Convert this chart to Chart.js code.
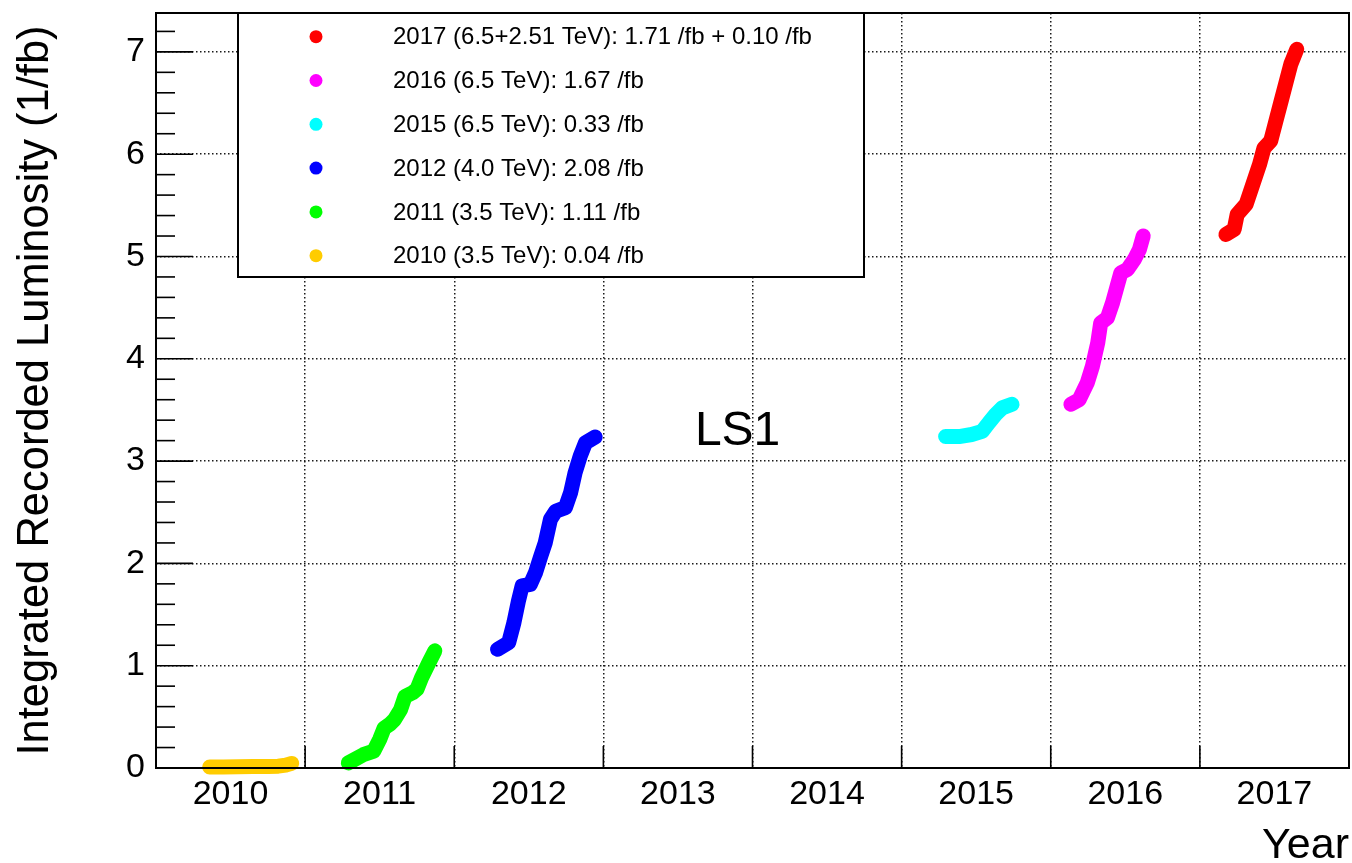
<!DOCTYPE html>
<html>
<head>
<meta charset="utf-8">
<script src="https://cdn.jsdelivr.net/npm/chart.js@4.4.1/dist/chart.umd.min.js"></script>
<style>
html,body{margin:0;padding:0;background:#fff;overflow:hidden}
#wrap{width:1352px;height:863px;position:relative}
</style>
</head>
<body>
<div id="wrap"><canvas id="c"></canvas></div>
<script>
// ---- axis definitions ----
const xGridTicks = [2010, 2011, 2012, 2013, 2014, 2015, 2016, 2017, 2018];
const yTicks = [0, 1, 2, 3, 4, 5, 6, 7];
const yMax = 7.38;
const xTitle = 'Year';
const yTitle = 'Integrated Recorded Luminosity (1/fb)';
const annotationText = 'LS1';

// ---- series (x = fractional year, y = cumulative 1/fb) ----
const run2010 = [[2010.36,0.01],[2010.45,0.01],[2010.55,0.012],[2010.65,0.015],[2010.75,0.015],[2010.82,0.018],[2010.87,0.028],[2010.91,0.045]];
const run2011 = [[2011.29,0.05],[2011.39,0.13],[2011.46,0.165],[2011.50,0.28],[2011.53,0.39],[2011.57,0.43],[2011.60,0.475],[2011.64,0.57],[2011.67,0.70],[2011.72,0.735],[2011.75,0.77],[2011.78,0.88],[2011.83,1.03],[2011.87,1.145]];
const run2012 = [[2012.29,1.16],[2012.365,1.225],[2012.40,1.42],[2012.43,1.63],[2012.455,1.78],[2012.51,1.795],[2012.545,1.91],[2012.58,2.07],[2012.61,2.20],[2012.645,2.43],[2012.68,2.51],[2012.745,2.545],[2012.78,2.69],[2012.81,2.885],[2012.845,3.05],[2012.88,3.18],[2012.945,3.235]];
const run2015 = [[2015.295,3.24],[2015.385,3.24],[2015.47,3.26],[2015.54,3.29],[2015.585,3.375],[2015.63,3.455],[2015.675,3.52],[2015.74,3.555]];
const run2016 = [[2016.135,3.555],[2016.19,3.60],[2016.245,3.765],[2016.28,3.93],[2016.315,4.155],[2016.335,4.35],[2016.38,4.40],[2016.415,4.55],[2016.445,4.71],[2016.47,4.84],[2016.515,4.875],[2016.56,4.97],[2016.595,5.07],[2016.62,5.20]];
const run2017 = [[2017.175,5.215],[2017.23,5.265],[2017.25,5.41],[2017.31,5.51],[2017.355,5.705],[2017.40,5.90],[2017.43,6.06],[2017.475,6.13],[2017.51,6.325],[2017.545,6.52],[2017.58,6.715],[2017.61,6.88],[2017.65,7.025]];

const seriesLabels = [
  '2010 (3.5 TeV): 0.04 /fb',
  '2011 (3.5 TeV): 1.11 /fb',
  '2012 (4.0 TeV): 2.08 /fb',
  '2015 (6.5 TeV): 0.33 /fb',
  '2016 (6.5 TeV): 1.67 /fb',
  '2017 (6.5+2.51 TeV): 1.71 /fb + 0.10 /fb'
];
const seriesColors = ['#ffcc00', '#00ff00', '#0000ff', '#00ffff', '#ff00ff', '#ff0000'];
const seriesData = [run2010, run2011, run2012, run2015, run2016, run2017];

const FONT = '"Liberation Sans", Arimo, Arial, Helvetica, sans-serif';

const datasets = seriesData.map((arr, i) => ({
  label: seriesLabels[i],
  data: arr.map(p => ({x: p[0], y: p[1]})),
  showLine: true,
  clip: false,
  borderColor: seriesColors[i],
  backgroundColor: seriesColors[i],
  borderWidth: 15,
  borderCapStyle: 'round',
  borderJoinStyle: 'round',
  pointRadius: 0,
  pointHoverRadius: 0,
  tension: 0
}));

const decorPlugin = {
  id: 'decor',
  afterDatasetsDraw(chart) {
    const {ctx, chartArea: a, scales: {x, y}} = chart;
    ctx.save();
    ctx.strokeStyle = '#000';
    const line = (x1, y1, x2, y2) => { ctx.beginPath(); ctx.moveTo(x1, y1); ctx.lineTo(x2, y2); ctx.stroke(); };
    // y major / minor ticks (inside)
    ctx.lineWidth = 1.6;
    for (let v = 0; v <= yMax + 1e-9; v += 0.2) {
      const py = y.getPixelForValue(v);
      const major = Math.abs(v - Math.round(v)) < 1e-6;
      line(a.left, py, a.left + (major ? 37 : 19), py);
    }
    // x major ticks (inside)
    xGridTicks.forEach(v => {
      const px = x.getPixelForValue(v);
      line(px, a.bottom, px, a.bottom - 22);
    });
    // frame
    ctx.lineWidth = 2;
    ctx.strokeRect(a.left, a.top, a.right - a.left, a.bottom - a.top);
    // LS1 annotation
    ctx.fillStyle = '#000';
    ctx.font = '48px ' + FONT;
    ctx.textAlign = 'center';
    ctx.textBaseline = 'middle';
    ctx.fillText(annotationText, x.getPixelForValue(2013.9), y.getPixelForValue(3.29));
    // legend box
    const bx = a.left + 82, by = a.top, bw = 626, bh = 264;
    ctx.fillStyle = '#fff';
    ctx.fillRect(bx, by, bw, bh);
    ctx.lineWidth = 2;
    ctx.strokeRect(bx, by, bw, bh);
    ctx.font = '24px ' + FONT;
    ctx.textAlign = 'left';
    ctx.textBaseline = 'middle';
    const order = [5, 4, 3, 2, 1, 0];
    order.forEach((idx, row) => {
      const cy = by + 23.7 + row * 43.8;
      ctx.fillStyle = seriesColors[idx];
      ctx.beginPath();
      ctx.arc(bx + 78, cy, 6.5, 0, Math.PI * 2);
      ctx.fill();
      ctx.fillStyle = '#000';
      ctx.fillText(seriesLabels[idx], bx + 155, cy + 1);
    });
    ctx.restore();
  }
};

new Chart(document.getElementById('c'), {
  type: 'scatter',
  data: {datasets},
  options: {
    responsive: true,
    maintainAspectRatio: false,
    animation: false,
    devicePixelRatio: 1,
    layout: {padding: {top: 13, right: 3, left: 0, bottom: 0}},
    plugins: {legend: {display: false}, tooltip: {enabled: false}},
    scales: {
      x: {
        type: 'linear',
        min: 2010,
        max: 2018,
        afterBuildTicks: s => { s.ticks = xGridTicks.map(v => ({value: v})); },
        afterFit: s => { s.height = 95; s.paddingLeft = 0; s.paddingRight = 0; },
        border: {display: false, dash: [1.5, 2.5]},
        grid: {display: true, drawTicks: false, color: '#1a1a1a', lineWidth: 1.5},
        ticks: {
          autoSkip: false, maxRotation: 0, minRotation: 0,
          labelOffset: 74.5, padding: 6, color: '#000',
          font: {family: FONT, size: 34},
          callback: v => (v >= 2018 ? '' : String(v))
        },
        title: {display: true, text: xTitle, align: 'end', color: '#000', font: {family: FONT, size: 43, lineHeight: 0.8}, padding: {top: 0, bottom: 0}}
      },
      y: {
        type: 'linear',
        min: 0,
        max: yMax,
        afterBuildTicks: s => { s.ticks = yTicks.map(v => ({value: v})); },
        afterFit: s => { s.width = 156; s.paddingTop = 0; s.paddingBottom = 0; },
        border: {display: false, dash: [1.5, 2.5]},
        grid: {display: true, drawTicks: false, color: '#1a1a1a', lineWidth: 1.5},
        ticks: {padding: 11, color: '#000', font: {family: FONT, size: 34}},
        title: {display: true, text: yTitle, color: '#000', font: {family: FONT, size: 43.5, lineHeight: 1}, padding: {top: 14, bottom: 0}}
      }
    }
  },
  plugins: [decorPlugin]
});
</script>
</body>
</html>
